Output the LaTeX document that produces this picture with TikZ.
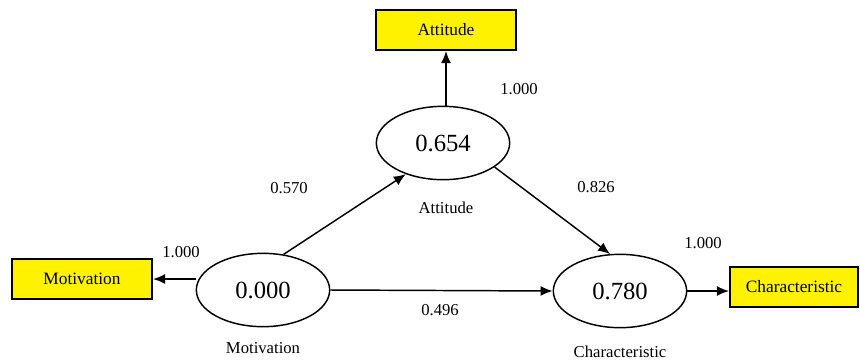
\documentclass[tikz,border=0pt]{standalone}
\usepackage{fontspec}
\setmainfont{Liberation Serif}
\newfontfamily\tnr{Liberation Serif}
\usetikzlibrary{arrows.meta,shapes.geometric}

\begin{document}
\begin{tikzpicture}[x=0.75pt,y=-0.75pt,
  ind/.style={draw=black,line width=1.6pt,fill=yellow,minimum width=105pt,minimum height=30pt,inner sep=0pt,font=\tnr\fontsize{13}{15}\selectfont},
  lat/.style={draw=black,line width=1.1pt,ellipse,minimum width=100pt,minimum height=55pt,inner sep=0pt,font=\tnr\fontsize{18.5}{20}\selectfont},
  lab/.style={font=\tnr\fontsize{12.5}{14}\selectfont},
  path/.style={line width=1.1pt,-{Latex[length=9pt,width=7.5pt]}}]
\useasboundingbox (0,0) rectangle (860,362);
\node [lat] (mot) at (263,290) {0.000};
\node [lat] (att) at (443,143) {0.654};
\node [lat] (cha) at (620,291) {0.780};
\node [ind] (motb) at (82,279) {Motivation};
\node [ind] (attb) at (446,30) {Attitude};
\node [ind, minimum width=96pt] (chab) at (794,287) {Characteristic};
\node [lab] (motl) at (263,348) {Motivation};
\node [lab] (attl) at (446,208) {Attitude};
\node [lab] (chal) at (620,352) {Characteristic};
\node [lab] (w1) at (181,252) {1.000};
\node [lab] (w2) at (519,89) {1.000};
\node [lab] (w3) at (703,243) {1.000};
\node [lab] (w4) at (289,188) {0.570};
\node [lab] (w5) at (596,187) {0.826};
\node [lab] (w6) at (440,310) {0.496};
\draw [path] (motb.east -| mot.west) -- (motb.east);
\draw [path] (att.north -| attb.south) -- (attb.south);
\draw [path] (cha.east) -- (cha.east -| chab.west);
\draw [path] (mot.60) -- (att.220);
\draw [path] (att.-25) -- (cha.105);
\draw [path] (mot.east) -- (cha.west);
\end{tikzpicture}
\end{document}
